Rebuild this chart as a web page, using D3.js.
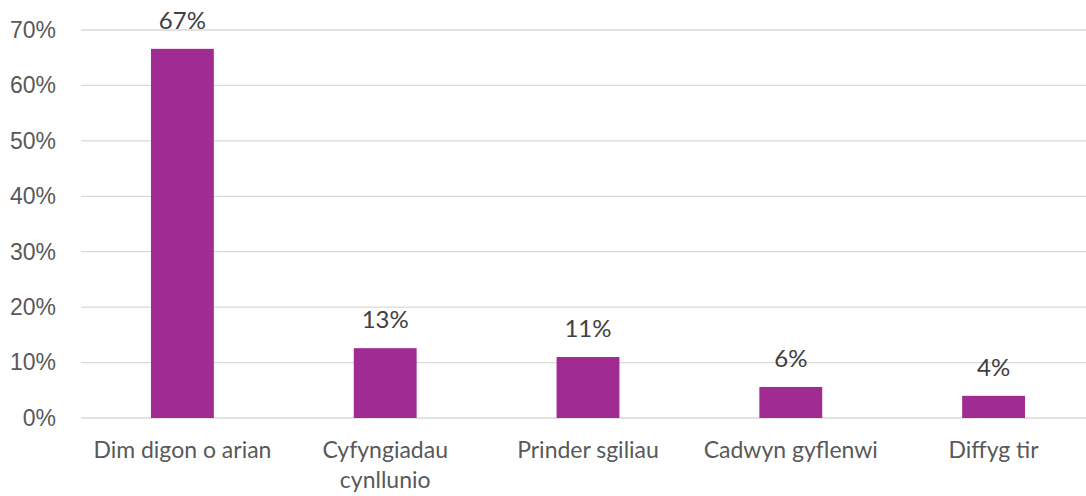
<!DOCTYPE html>
<html>
<head>
<meta charset="utf-8">
<style>
  body { margin: 0; background: #fff; }
  svg { display: block; font-family: 'Lato', 'Open Sans', sans-serif; }
</style>
<script src="https://d3js.org/d3.v7.min.js"></script>
</head>
<body>
<div id="chart"></div>
<script>
// values
var categories = ["Dim digon o arian", "Cyfyngiadau cynllunio", "Prinder sgiliau", "Cadwyn gyflenwi", "Diffyg tir"];
var values = [0.666, 0.126, 0.110, 0.056, 0.040];
var yTicks = [0, 0.1, 0.2, 0.3, 0.4, 0.5, 0.6, 0.7];

var W = 1086, H = 496;
var svg = d3.select("#chart").append("svg").attr("width", W).attr("height", H);

var x = d3.scaleBand().domain(categories).range([81, 1095]).paddingInner(0.69).paddingOuter(0.345);
var y = d3.scaleLinear().domain([0, 0.7]).range([418, 30]);

// gridlines
svg.append("g").selectAll("line").data(yTicks).join("line")
  .attr("x1", 81).attr("x2", W)
  .attr("y1", d => y(d)).attr("y2", d => y(d))
  .attr("stroke", "#d9d9d9").attr("stroke-width", 1.3);

// y axis labels
var yAxis = d3.axisLeft(y).tickValues(yTicks).tickFormat(d3.format(".0%")).tickSize(0).tickPadding(0);
var ya = svg.append("g").attr("transform", "translate(56,0)").call(yAxis);
ya.select(".domain").remove();
ya.selectAll("text").attr("fill", "#595959").style("font-size", "23px").style("font-family", "inherit");

// bars
svg.append("g").selectAll("rect").data(values).join("rect")
  .attr("x", (d, i) => x(categories[i]))
  .attr("y", d => y(d))
  .attr("width", x.bandwidth())
  .attr("height", d => y(0) - y(d))
  .attr("fill", "#a02b93");

// value labels
svg.append("g").selectAll("text").data(values).join("text")
  .attr("x", (d, i) => x(categories[i]) + x.bandwidth() / 2)
  .attr("y", d => y(d) - 20)
  .attr("text-anchor", "middle")
  .attr("fill", "#404040")
  .style("font-size", "24px")
  .text(d => d3.format(".0%")(d));

// category labels, wrapped when too wide
var xa = svg.append("g");
categories.forEach(function(c) {
  var t = xa.append("text")
    .attr("x", x(c) + x.bandwidth() / 2)
    .attr("y", 458)
    .attr("text-anchor", "middle")
    .attr("fill", "#595959")
    .style("font-size", "23px");
  t.text(c);
  if (t.node().getComputedTextLength() > 195) {
    var words = c.split(" ");
    t.text("");
    words.forEach(function(w, j) {
      t.append("tspan").attr("x", x(c) + x.bandwidth() / 2).attr("dy", j ? 30 : 0).text(w);
    });
  }
});
</script>
</body>
</html>
